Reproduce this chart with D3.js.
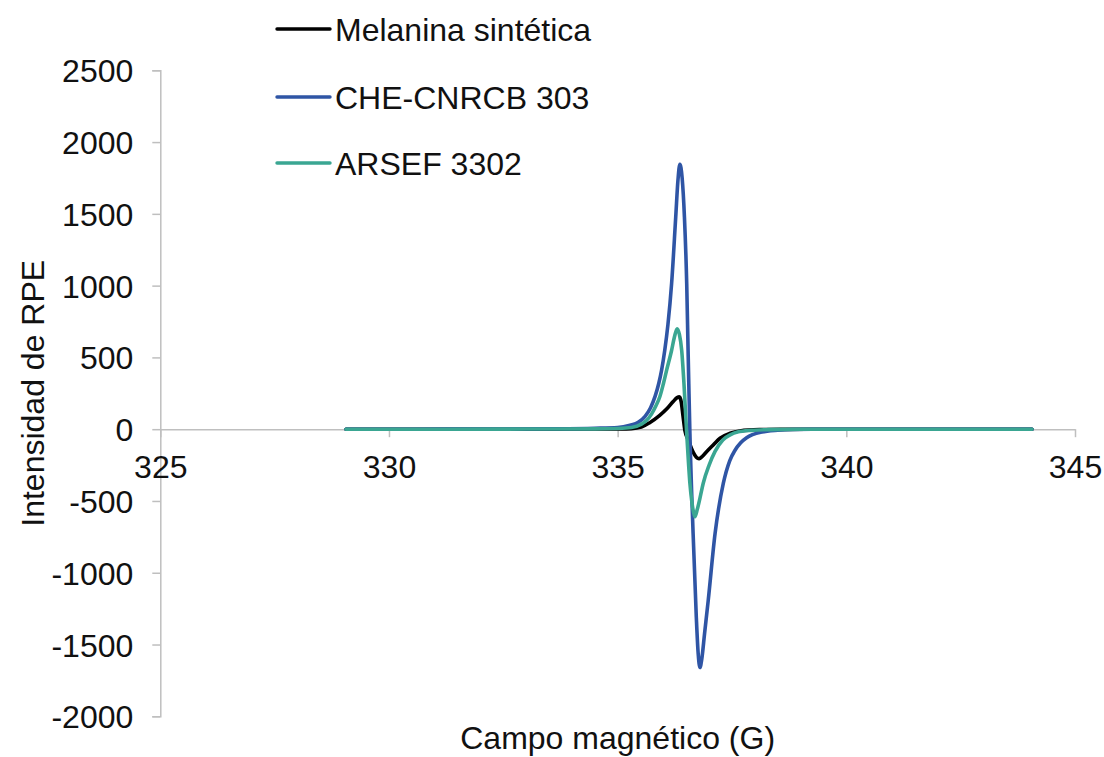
<!DOCTYPE html>
<html>
<head>
<meta charset="utf-8">
<script src="https://cdn.jsdelivr.net/npm/d3@7"></script>
<style>
  html, body { margin: 0; padding: 0; background: #ffffff; }
  svg { display: block; font-family: "Liberation Sans", Arial, sans-serif; }
</style>
</head>
<body>
<svg id="chart" width="1104" height="757"></svg>
<script>
// EPR spectra: magnetic field (G) vs. signal intensity
const seriesNames = ["Melanina sintética", "CHE-CNRCB 303", "ARSEF 3302"];
const seriesColors = ["#000000", "#2F55A5", "#3AA692"];

const melaninaCampo = [329.06, 331.0, 333.0, 334.5, 335.0, 335.3, 335.52, 335.7, 335.92, 336.07, 336.22, 336.30, 336.35, 336.39, 336.43, 336.47, 336.55, 336.65, 336.72, 336.78, 336.85, 336.91, 337.09, 337.24, 337.46, 337.67, 338.1, 338.6, 339.5, 341.0, 342.5, 344.06];
const melaninaRPE   = [0, 0, 0, 1, 2, 4, 15, 45, 96, 140, 195, 220, 225, 190, 90, -8, -80, -160, -195, -205, -190, -169, -110, -62, -28, -12, -3, -1, 0, 0, 0, 0];

const cheCampo = [329.06, 330.5, 332.0, 333.5, 334.5, 335.0, 335.27, 335.45, 335.6, 335.72, 335.82, 335.9, 335.96, 336.03, 336.10, 336.18, 336.27, 336.32, 336.36, 336.41, 336.46, 336.51, 336.54, 336.56, 336.58, 336.65, 336.72, 336.76, 336.80, 336.84, 336.90, 336.98, 337.13, 337.31, 337.45, 337.56, 337.69, 337.82, 338.15, 338.5, 338.83, 339.5, 341.0, 342.5, 344.06];
const cheRPE   = [0, 0, 1, 3, 7, 12, 28, 48, 90, 150, 230, 320, 410, 550, 730, 1015, 1479, 1740, 1845, 1750, 1479, 1015, 550, 250, -29, -727, -1310, -1560, -1660, -1600, -1425, -1194, -727, -378, -220, -150, -95, -60, -20, -7, -2, 0, 0, 0, 0];

const arsefCampo = [329.06, 331.0, 333.0, 334.5, 335.0, 335.3, 335.52, 335.63, 335.74, 335.84, 335.92, 336.0, 336.07, 336.18, 336.24, 336.30, 336.35, 336.40, 336.45, 336.49, 336.51, 336.55, 336.58, 336.62, 336.66, 336.69, 336.74, 336.80, 336.87, 337.0, 337.13, 337.30, 337.46, 337.62, 337.93, 338.3, 339.0, 341.0, 343.0, 344.06];
const arsefRPE   = [0, 0, 1, 2, 5, 12, 35, 60, 105, 165, 224, 317, 410, 550, 640, 700, 660, 550, 317, 84, -31, -240, -378, -500, -580, -610, -560, -480, -378, -250, -155, -75, -40, -20, -8, -3, 0, 0, 0, 0];

const xTicks = [325, 330, 335, 340, 345];
const yTicks = [-2000, -1500, -1000, -500, 0, 500, 1000, 1500, 2000, 2500];

const axisTitleX = "Campo magnético (G)";
const axisTitleY = "Intensidad de RPE";

const series = [
  { name: seriesNames[0], color: seriesColors[0], x: melaninaCampo, y: melaninaRPE },
  { name: seriesNames[1], color: seriesColors[1], x: cheCampo, y: cheRPE },
  { name: seriesNames[2], color: seriesColors[2], x: arsefCampo, y: arsefRPE }
];

const svg = d3.select("#chart");
const fontSize = 32;
const textColor = "#111111";
const axisColor = "#BFBFBF";
const plainNumber = d => String(d);

const x = d3.scaleLinear().domain([325, 345]).range([160.3, 1075]);
const y = d3.scaleLinear().domain([-2000, 2500]).range([716.3, 70.3]);

// vertical axis with ticks pointing left
const yAxis = svg.append("g").attr("transform", `translate(${x(325)},0)`)
  .call(d3.axisLeft(y).tickValues(yTicks).tickSize(8).tickPadding(19).tickFormat(plainNumber));
yAxis.select(".domain").attr("stroke", axisColor).attr("stroke-width", 1.5);
yAxis.selectAll(".tick line").attr("stroke", axisColor).attr("stroke-width", 1.5);
yAxis.selectAll(".tick text")
  .attr("fill", textColor)
  .style("font-size", fontSize + "px")
  .style("font-family", "'Liberation Sans', Arial, sans-serif")
  .attr("dy", "0.36em");

// horizontal axis drawn along the zero line, ticks pointing down
const xAxis = svg.append("g").attr("transform", `translate(0,${y(0)})`)
  .call(d3.axisBottom(x).tickValues(xTicks).tickSize(8).tickSizeOuter(0).tickPadding(18).tickFormat(plainNumber));
xAxis.select(".domain").attr("stroke", axisColor).attr("stroke-width", 1.5);
xAxis.selectAll(".tick line").attr("stroke", axisColor).attr("stroke-width", 1.5);
xAxis.selectAll(".tick text")
  .attr("fill", textColor)
  .style("font-size", fontSize + "px")
  .style("font-family", "'Liberation Sans', Arial, sans-serif");

// spectra
const line = d3.line()
  .x(d => x(d[0]))
  .y(d => y(d[1]))
  .curve(d3.curveMonotoneX);

svg.append("g").selectAll("path")
  .data(series)
  .join("path")
  .attr("d", s => line(d3.zip(s.x, s.y)))
  .attr("fill", "none")
  .attr("stroke", s => s.color)
  .attr("stroke-width", 3.6)
  .attr("stroke-linejoin", "round")
  .attr("stroke-linecap", "round");

// legend
const legendRows = [29, 97, 163];
const legend = svg.append("g");
series.forEach((s, i) => {
  legend.append("line")
    .attr("x1", 277).attr("x2", 330)
    .attr("y1", legendRows[i]).attr("y2", legendRows[i])
    .attr("stroke", s.color).attr("stroke-width", 3.4).attr("stroke-linecap", "round");
  legend.append("text")
    .attr("x", 335).attr("y", legendRows[i] + 11.5)
    .attr("fill", textColor)
    .style("font-size", fontSize + "px")
    .text(s.name);
});

// axis titles
svg.append("text")
  .attr("x", (x.range()[0] + x.range()[1]) / 2)
  .attr("y", 749)
  .attr("text-anchor", "middle")
  .attr("fill", textColor)
  .style("font-size", fontSize + "px")
  .text(axisTitleX);

svg.append("text")
  .attr("transform", `translate(44,${(y.range()[0] + y.range()[1]) / 2}) rotate(-90)`)
  .attr("text-anchor", "middle")
  .attr("fill", textColor)
  .style("font-size", fontSize + "px")
  .text(axisTitleY);
</script>
</body>
</html>
